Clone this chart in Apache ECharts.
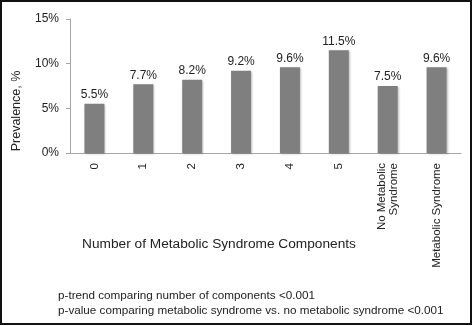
<!DOCTYPE html>
<html>
<head>
<meta charset="utf-8">
<script src="https://cdn.jsdelivr.net/npm/echarts@6/dist/echarts.min.js"></script>
<style>
  html, body { margin: 0; padding: 0; background: #fff; }
  #chart { width: 473px; height: 326px; }
</style>
</head>
<body>
<div id="chart"></div>
<script>
// Prevalence by number of metabolic syndrome components
const categories = ['0', '1', '2', '3', '4', '5', 'No Metabolic\nSyndrome', 'Metabolic Syndrome'];
const prevalence = [5.5, 7.7, 8.2, 9.2, 9.6, 11.5, 7.5, 9.6];
const yTicks = [0, 5, 10, 15];
const footnotes = [
  'p-trend comparing number of components <0.001',
  'p-value comparing metabolic syndrome vs. no metabolic syndrome <0.001'
];

const FONT = 'Liberation Sans, Arial, sans-serif';
const chart = echarts.init(document.getElementById('chart'), null, { renderer: 'canvas' });

chart.setOption({
  animation: false,
  textStyle: { fontFamily: FONT },
  grid: { left: 70, right: 12, top: 19, bottom: 173, containLabel: false },
  xAxis: {
    type: 'category',
    data: categories,
    axisLine: { lineStyle: { color: '#a6a6a6', width: 1 } },
    axisTick: { show: false },
    axisLabel: {
      rotate: 90,
      color: '#222',
      fontSize: 11.5,
      fontFamily: FONT,
      margin: 10,
      lineHeight: 11.5
    }
  },
  yAxis: {
    type: 'value',
    min: yTicks[0],
    max: yTicks[yTicks.length - 1],
    interval: 5,
    axisLine: { show: true, lineStyle: { color: '#a6a6a6', width: 1 } },
    axisTick: { show: true, length: 4, lineStyle: { color: '#a6a6a6' } },
    splitLine: { show: false },
    axisLabel: {
      color: '#222',
      fontSize: 12,
      fontFamily: FONT,
      margin: 11,
      formatter: v => v + '%'
    }
  },
  series: [{
    type: 'bar',
    data: prevalence,
    barWidth: 20,
    itemStyle: {
      color: '#7f7f7f',
      shadowColor: 'rgba(0,0,0,0.25)',
      shadowBlur: 2,
      shadowOffsetX: 1,
      shadowOffsetY: 1
    },
    label: {
      show: true,
      position: 'top',
      distance: 3,
      color: '#222',
      fontSize: 12,
      fontFamily: FONT,
      formatter: p => p.value.toFixed(1) + '%'
    }
  }],
  graphic: [
    {
      type: 'rect',
      shape: { x: 1, y: 1, width: 470, height: 323 },
      style: { fill: 'none', stroke: '#111', lineWidth: 2 },
      z: 100
    },
    {
      type: 'text',
      x: 17, y: 111,
      rotation: Math.PI / 2,
      style: {
        text: 'Prevalence, %',
        fill: '#222',
        font: '12.5px ' + FONT,
        align: 'center',
        verticalAlign: 'middle'
      }
    },
    {
      type: 'text',
      x: 219, y: 244,
      style: {
        text: 'Number of Metabolic Syndrome Components',
        fill: '#222',
        font: '13.7px ' + FONT,
        align: 'center',
        verticalAlign: 'middle'
      }
    },
    {
      type: 'text',
      x: 58, y: 296,
      style: {
        text: footnotes[0],
        fill: '#222',
        font: '11.7px ' + FONT,
        align: 'left',
        verticalAlign: 'middle'
      }
    },
    {
      type: 'text',
      x: 58, y: 311,
      style: {
        text: footnotes[1],
        fill: '#222',
        font: '11.7px ' + FONT,
        align: 'left',
        verticalAlign: 'middle'
      }
    }
  ]
});
</script>
</body>
</html>
